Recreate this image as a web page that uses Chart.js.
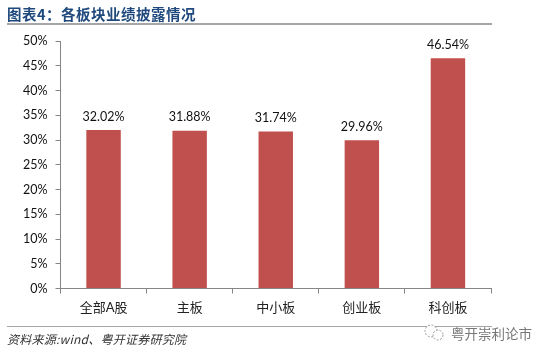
<!DOCTYPE html>
<html>
<head>
<meta charset="utf-8">
<script src="https://cdn.jsdelivr.net/npm/chart.js@4"></script>
<style>
  html, body { margin: 0; padding: 0; background: #fff; }
  #wrap { position: relative; width: 550px; height: 356px; overflow: hidden; }
  #chart { position: absolute; left: 0; top: 0; }
  .note { position: absolute; white-space: nowrap; font-family: "Noto Sans CJK SC", sans-serif; }
  #title { left: 7px; top: 4px; font-size: 14.5px; line-height: 20px; font-weight: 700; color: #1f497d; letter-spacing: 0.5px; }
  #source { left: 7px; top: 331px; font-size: 12px; line-height: 16px; font-style: italic; color: #333; letter-spacing: 0.25px; }
  #mark { left: 451px; top: 324px; font-size: 13.5px; line-height: 18px; color: #777; }
  #icon { position: absolute; left: 422px; top: 323px; }
  .rule { position: absolute; left: 7px; width: 485px; height: 1px; background: #a6a6a6; }
</style>
</head>
<body>
<div id="wrap">
  <canvas id="chart" width="550" height="356"></canvas>
  <div class="note" id="title">图表4：各板块业绩披露情况</div>
  <div class="rule" style="top:23px;height:2px"></div>
  <div class="rule" style="top:326px"></div>
  <div class="note" id="source">资料来源:wind、粤开证券研究院</div>
  <svg id="icon" width="24" height="20" fill="#fff" stroke="#999" stroke-width="1" stroke-dasharray="2 1.5">
    <circle cx="9" cy="8" r="6"></circle>
    <circle cx="16" cy="12" r="5"></circle>
  </svg>
  <div class="note" id="mark">粤开崇利论市</div>
</div>
<script>
const categories = ['全部A股', '主板', '中小板', '创业板', '科创板'];
const disclosureRates = [32.02, 31.88, 31.74, 29.96, 46.54];
const tickStep = 5;
const tickMax = 50;

const FONT = 'Lato, "Noto Sans CJK SC", sans-serif';

// value labels above the bars
const barLabels = {
  id: 'barLabels',
  afterDatasetsDraw(chart) {
    const ctx = chart.ctx;
    ctx.save();
    ctx.font = '12.5px ' + FONT;
    ctx.fillStyle = '#111';
    ctx.textAlign = 'center';
    ctx.textBaseline = 'bottom';
    chart.getDatasetMeta(0).data.forEach((bar, i) => {
      ctx.fillText(disclosureRates[i].toFixed(2) + '%', bar.x, bar.y - 7);
    });
    ctx.restore();
  }
};

new Chart(document.getElementById('chart').getContext('2d'), {
  type: 'bar',
  data: {
    labels: categories,
    datasets: [{
      data: disclosureRates,
      backgroundColor: '#c0504d',
      barPercentage: 1,
      categoryPercentage: 0.4
    }]
  },
  options: {
    responsive: false,
    animation: false,
    layout: { padding: { top: 41, right: 59, left: 0, bottom: 0 } },
    plugins: { legend: { display: false }, tooltip: { enabled: false } },
    scales: {
      x: {
        afterFit: (axis) => { axis.height = 67.5; },
        grid: { offset: true, drawOnChartArea: false, color: '#868686', tickLength: 5 },
        border: { color: '#868686' },
        ticks: { color: '#222', font: { family: FONT, size: 13 }, padding: 7, maxRotation: 0 }
      },
      y: {
        min: 0,
        max: tickMax,
        afterFit: (axis) => { axis.width = 60.5; },
        grid: { drawOnChartArea: false, color: '#868686', tickLength: 5 },
        border: { color: '#868686' },
        ticks: {
          stepSize: tickStep,
          color: '#111',
          font: { family: FONT, size: 12.5 },
          padding: 8,
          callback: (value) => value + '%'
        }
      }
    }
  },
  plugins: [barLabels]
});
</script>
</body>
</html>
